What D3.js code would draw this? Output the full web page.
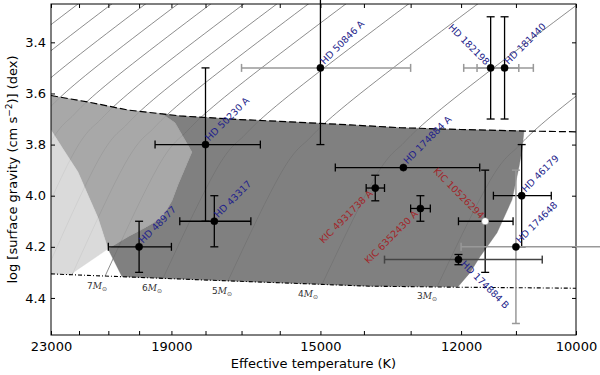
<!DOCTYPE html>
<html>
<head>
<meta charset="utf-8">
<script src="https://cdn.jsdelivr.net/npm/d3@7"></script>
<style>
  body { margin: 0; background: #fff; }
  svg { font-family: 'DejaVu Sans', sans-serif; }
</style>
</head>
<body>
<div id="chart"></div>
<script>

// ---- stars (Teff in K, log g in dex) ----
var starNames = ['HD 50846 A', 'HD 50230 A', 'HD 43317', 'HD 48977', 'HD 182198', 'HD 181440',
   'HD 174884 A', 'KIC 10526294', 'HD 46179', 'HD 174648', 'HD 174884 B', 'KIC 6352430 A', 'KIC 4931738 A'];
var starTeff =     [15000, 18000, 17750, 20000, 11450, 11200, 13150, 11550, 10900, 11000, 12050, 12800, 13750];
var teffErrHot =   [2000, 1500, 1000, 1000, 500, 500, 1500, 500, 500, 1000, 1500, 200, 200];
var teffErrCool =  [2000, 1500, 1000, 1000, 500, 500, 1500, 500, 500, 1500, 1500, 200, 200];
var starLogg =     [3.50, 3.80, 4.10, 4.20, 3.50, 3.50, 3.89, 4.10, 4.00, 4.20, 4.25, 4.05, 3.97];
var loggErr =      [0.30, 0.30, 0.10, 0.10, 0.20, 0.20, 0, 0.20, 0.20, 0.30, 0.02, 0.05, 0.05];
var starKind =     ['HD', 'HD', 'HD', 'HD', 'HD', 'HD', 'HD', 'KIC', 'HD', 'HD', 'HD', 'KIC', 'KIC'];
var labelDir =     ['ne', 'ne', 'ne', 'ne', 'nw', 'ne', 'ne', 'nw', 'ne', 'ne', 'se', 'sw', 'sw'];
var teffBarTone =  ['light', 'dark', 'dark', 'dark', 'light', 'light', 'dark', 'dark', 'dark', 'light', 'mid', 'dark', 'dark'];
var loggBarTone =  ['dark', 'dark', 'dark', 'dark', 'dark', 'dark', 'dark', 'dark', 'dark', 'light', 'dark', 'dark', 'dark'];
var openMarker =   [false, false, false, false, false, false, false, true, false, false, false, false, false];

// ---- ZAMS (dash-dot) and TAMS (dashed) ----
var tamsTeff = [23000, 21620, 20350, 18740, 17040, 15740, 14310, 13220, 12020, 10840, 10000];
var tamsLogg = [3.608, 3.635, 3.665, 3.688, 3.702, 3.711, 3.723, 3.734, 3.741, 3.747, 3.750];
var zamsTeff = [23000, 18160, 13870, 12080, 10000];
var zamsLogg = [4.306, 4.329, 4.354, 4.358, 4.362];

// ---- shaded regions ----
var darkTeff = [19285, 18740, 17040, 15740, 14310, 13220, 12020, 10860, 10894, 10946, 11069, 11335,
   11646, 11831, 12059, 13870, 18160, 20548, 21011, 20354, 19812, 19285, 18982, 18802, 18391, 18892];
var darkLogg = [3.679, 3.688, 3.702, 3.711, 3.723, 3.734, 3.741, 3.746, 3.821, 3.887, 4.016, 4.145,
   4.239, 4.301, 4.356, 4.354, 4.329, 4.317, 4.208, 4.161, 4.125, 4.086, 4.020, 3.957, 3.829, 3.715];
var midTeff = [23000, 21620, 20350, 19285, 18892, 18391, 18802, 18982, 19285, 19812, 20354, 21011,
   21348, 21689, 22036, 22494, 23000];
var midLogg = [3.608, 3.635, 3.665, 3.679, 3.715, 3.829, 3.957, 4.020, 4.086, 4.125, 4.161, 4.208,
   4.086, 3.997, 3.907, 3.829, 3.743];
var lightTeff = [23000, 22494, 22036, 21689, 21348, 21011, 22316, 23000];
var lightLogg = [3.743, 3.829, 3.907, 3.997, 4.086, 4.208, 4.309, 4.306];

// ---- evolutionary tracks ----
var trackMass = [3, 4, 5, 6, 7, 8, 9, 10, 11, 12, 13, 14, 15];
var trackTeff = [
   [12467, 11335, 10981, 10723, 7808],
   [14962, 13604, 13179, 12869, 9370],
   [17369, 15791, 15298, 14939, 10877],
   [19255, 17507, 16960, 16561, 12059],
   [21110, 19194, 18594, 18157, 13221],
   [22245, 20225, 19594, 19133, 13932],
   [23218, 21110, 20451, 19970, 14541],
   [24196, 21999, 21312, 20811, 15153],
   [25255, 22962, 22245, 21722, 15816],
   [26318, 23929, 23182, 22636, 16483],
   [27427, 24937, 24158, 23590, 17177],
   [28627, 26028, 25215, 24622, 17929],
   [29880, 27167, 26318, 25700, 18713]
];
var trackLogg = [
   [4.357, 3.863, 3.824, 3.734, 3.148],
   [4.347, 3.851, 3.812, 3.722, 3.136],
   [4.333, 3.832, 3.793, 3.703, 3.117],
   [4.323, 3.820, 3.781, 3.691, 3.105],
   [4.315, 3.806, 3.767, 3.677, 3.091],
   [4.309, 3.793, 3.754, 3.664, 3.078],
   [4.306, 3.779, 3.740, 3.650, 3.065],
   [4.302, 3.759, 3.720, 3.630, 3.044],
   [4.297, 3.741, 3.702, 3.612, 3.026],
   [4.293, 3.721, 3.682, 3.592, 3.006],
   [4.290, 3.702, 3.663, 3.573, 2.987],
   [4.286, 3.682, 3.643, 3.553, 2.967],
   [4.282, 3.662, 3.623, 3.533, 2.947]
];
var massLabels = ['7', '6', '5', '4', '3'];
var massLabelTeff = [21720, 19907, 17815, 15543, 12869];
var massLabelLogg = [4.364, 4.372, 4.383, 4.395, 4.403];

// ---- axes ----
var xTickValues = d3.range(10000, 23001, 1000);
var xTickLabels = [23000, 19000, 15000, 12000, 10000];
var yTickValues = [3.4, 3.6, 3.8, 4.0, 4.2, 4.4];


var WIDTH = 600, HEIGHT = 375;
var LEFT = 51, RIGHT = 576, TOP = 4, BOTTOM = 335;

var HD_COLOR = '#1f1f8c';
var KIC_COLOR = '#a2262a';
var TONES = { dark: '#000', mid: '#444', light: '#999' };

var svg = d3.select('#chart').append('svg')
   .attr('width', WIDTH)
   .attr('height', HEIGHT);

var x = d3.scaleLog().domain([23000, 10000]).range([LEFT, RIGHT]);
var y = d3.scaleLinear().domain([3.25, 4.545]).range([TOP, BOTTOM]);

svg.append('clipPath').attr('id', 'plotClip')
   .append('rect')
   .attr('x', LEFT).attr('y', TOP)
   .attr('width', RIGHT - LEFT).attr('height', BOTTOM - TOP);

var plot = svg.append('g').attr('clip-path', 'url(#plotClip)');

function zip(ts, gs){
   return ts.map(function(t, i){ return [t, gs[i]]; });
}

var pathLine = d3.line()
   .x(function(d){ return x(d[0]); })
   .y(function(d){ return y(d[1]); });

// tracks first, the shading goes over them slightly transparent
plot.append('g').selectAll('path')
   .data(trackMass)
   .enter()
   .append('path')
      .attr('d', function(m, i){
         return pathLine.curve(d3.curveBasis)(zip(trackTeff[i], trackLogg[i]));
      })
      .attr('fill', 'none')
      .attr('stroke', '#404040')
      .attr('stroke-width', 0.6);

pathLine.curve(d3.curveLinear);

var regions = [
   { t: darkTeff, g: darkLogg, fill: '#727272' },
   { t: midTeff, g: midLogg, fill: '#9e9e9e' },
   { t: lightTeff, g: lightLogg, fill: '#d6d6d6' }
];

plot.append('g').selectAll('path')
   .data(regions)
   .enter()
   .append('path')
      .attr('d', function(r){ return pathLine(zip(r.t, r.g)) + 'Z'; })
      .attr('fill', function(r){ return r.fill; })
      .attr('fill-opacity', 0.9)
      .attr('stroke', function(r){ return r.fill; })
      .attr('stroke-opacity', 0.9)
      .attr('stroke-width', 0.4);

// TAMS and ZAMS
plot.append('path')
   .attr('d', pathLine(zip(tamsTeff, tamsLogg)))
   .attr('fill', 'none')
   .attr('stroke', '#000')
   .attr('stroke-width', 1.2)
   .attr('stroke-dasharray', '7,3');

plot.append('path')
   .attr('d', pathLine(zip(zamsTeff, zamsLogg)))
   .attr('fill', 'none')
   .attr('stroke', '#000')
   .attr('stroke-width', 1.1)
   .attr('stroke-dasharray', '4,2,1,2');

// mass labels
var massText = plot.append('g').selectAll('text')
   .data(massLabels)
   .enter()
   .append('text')
      .attr('x', function(d, i){ return x(massLabelTeff[i]); })
      .attr('y', function(d, i){ return y(massLabelLogg[i]); })
      .attr('font-size', 9)
      .attr('fill', '#333');

massText.append('tspan').text(function(d){ return d; });
massText.append('tspan')
   .attr('font-family', 'DejaVu Serif')
   .attr('font-style', 'italic')
   .text('M');
massText.append('tspan')
   .attr('font-size', 6)
   .attr('dy', 2.5)
   .text('\u2299');

// axes
var xBottom = d3.axisBottom(x)
   .tickValues(xTickValues)
   .tickSize(-4)
   .tickPadding(7)
   .tickFormat(function(d){ return xTickLabels.indexOf(d) >= 0 ? d : ''; });

var xTop = d3.axisTop(x).tickValues(xTickValues).tickSize(-4).tickFormat('');

var yLeft = d3.axisLeft(y)
   .tickValues(yTickValues)
   .tickSize(-4)
   .tickPadding(5)
   .tickFormat(d3.format('.1f'));

var yRight = d3.axisRight(y).tickValues(yTickValues).tickSize(-4).tickFormat('');

function styleAxis(g){
   g.select('.domain').remove();
   g.attr('font-family', null).attr('font-size', null);
   g.selectAll('text').attr('font-size', 13).attr('fill', '#000');
   g.selectAll('line').attr('stroke', '#000').attr('stroke-width', 1);
}

svg.append('g').attr('transform', 'translate(0,' + BOTTOM + ')').call(xBottom).call(styleAxis);
svg.append('g').attr('transform', 'translate(0,' + TOP + ')').call(xTop).call(styleAxis);
svg.append('g').attr('transform', 'translate(' + LEFT + ',0)').call(yLeft).call(styleAxis);
svg.append('g').attr('transform', 'translate(' + RIGHT + ',0)').call(yRight).call(styleAxis);

svg.append('rect')
   .attr('x', LEFT).attr('y', TOP)
   .attr('width', RIGHT - LEFT).attr('height', BOTTOM - TOP)
   .attr('fill', 'none')
   .attr('stroke', '#000')
   .attr('stroke-width', 1);

svg.append('text')
   .attr('x', (LEFT + RIGHT) / 2)
   .attr('y', 368)
   .attr('text-anchor', 'middle')
   .attr('font-size', 13)
   .text('Effective temperature (K)');

var yTitle = svg.append('text')
   .attr('transform', 'translate(17,' + ((TOP + BOTTOM) / 2) + ') rotate(-90)')
   .attr('text-anchor', 'middle')
   .attr('font-size', 13);
yTitle.append('tspan').text('log [surface gravity (cm s');
yTitle.append('tspan').attr('font-size', 9).attr('dy', -5).text('\u22122');
yTitle.append('tspan').attr('dy', 5).text(')] (dex)');

// error bars (not clipped, like the original)
var CAP = 4;
var bars = svg.append('g').selectAll('g')
   .data(starNames)
   .enter()
   .append('g');

bars.each(function(name, i){
   var g = d3.select(this);
   var cy = y(starLogg[i]);
   var cx = x(starTeff[i]);
   var x1 = x(starTeff[i] + teffErrHot[i]);
   var x2 = x(starTeff[i] - teffErrCool[i]);
   var tc = TONES[teffBarTone[i]];
   var lw = teffBarTone[i] == 'dark' ? 1.3 : 1.5;

   g.append('line').attr('x1', x1).attr('x2', x2).attr('y1', cy).attr('y2', cy)
      .attr('stroke', tc).attr('stroke-width', lw);
   [x1, x2].forEach(function(xx){
      g.append('line').attr('x1', xx).attr('x2', xx).attr('y1', cy - CAP).attr('y2', cy + CAP)
         .attr('stroke', tc).attr('stroke-width', lw);
   });

   if(loggErr[i] > 0){
      var gc = TONES[loggBarTone[i]];
      var y1 = y(starLogg[i] - loggErr[i]);
      var y2 = y(starLogg[i] + loggErr[i]);
      var lw2 = loggBarTone[i] == 'dark' ? 1.3 : 1.5;
      g.append('line').attr('x1', cx).attr('x2', cx).attr('y1', y1).attr('y2', y2)
         .attr('stroke', gc).attr('stroke-width', lw2);
      [y1, y2].forEach(function(yy){
         g.append('line').attr('x1', cx - CAP).attr('x2', cx + CAP).attr('y1', yy).attr('y2', yy)
            .attr('stroke', gc).attr('stroke-width', lw2);
      });
   }
});

// points
svg.append('g').selectAll('circle')
   .data(starNames)
   .enter()
   .append('circle')
      .attr('cx', function(d, i){ return x(starTeff[i]); })
      .attr('cy', function(d, i){ return y(starLogg[i]); })
      .attr('r', 3.6)
      .attr('fill', function(d, i){ return openMarker[i] ? '#fff' : '#000'; })
      .attr('stroke', function(d, i){ return openMarker[i] ? '#777' : '#000'; })
      .attr('stroke-width', 0.5);

// star names, set at 45 degrees
var LABEL_POS = {
   ne: { dx: 4, dy: -3, rot: -45, anchor: 'start' },
   nw: { dx: -5, dy: -2, rot: 45, anchor: 'end' },
   se: { dx: 2, dy: 5, rot: 45, anchor: 'start' },
   sw: { dx: -2, dy: 6, rot: -45, anchor: 'end' }
};

svg.append('g').selectAll('text')
   .data(starNames)
   .enter()
   .append('text')
      .attr('transform', function(d, i){
         var p = LABEL_POS[labelDir[i]];
         return 'translate(' + (x(starTeff[i]) + p.dx) + ',' + (y(starLogg[i]) + p.dy) + ') rotate(' + p.rot + ')';
      })
      .attr('text-anchor', function(d, i){ return LABEL_POS[labelDir[i]].anchor; })
      .attr('font-size', 9.5)
      .attr('fill', function(d, i){ return starKind[i] == 'KIC' ? KIC_COLOR : HD_COLOR; })
      .text(function(d){ return d; });

</script>
</body>
</html>
